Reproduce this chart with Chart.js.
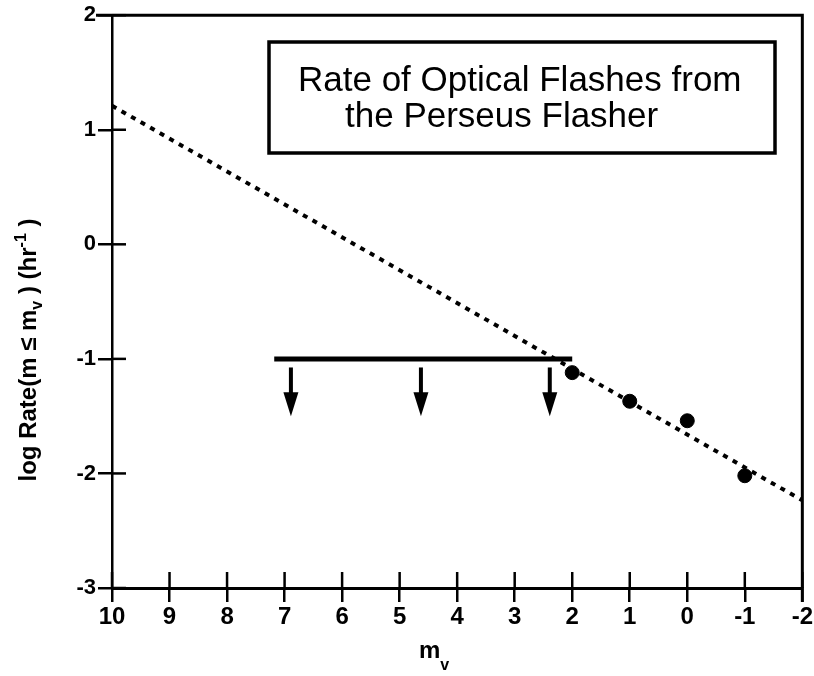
<!DOCTYPE html>
<html>
<head>
<meta charset="utf-8">
<script src="https://cdn.jsdelivr.net/npm/chart.js@4.4.0/dist/chart.umd.min.js"></script>
<style>
    html, body { margin: 0; padding: 0; background: #fff; }
    #wrap { width: 814px; height: 676px; }
</style>
</head>
<body>
<div id="wrap"><canvas id="chart" width="814" height="676"></canvas></div>
<script>
// measured flashes
const magnitudes = [2, 1, 0, -1];
const logRates = [-1.12, -1.37, -1.54, -2.02];

// dotted fit line (end points)
const fitMags = [10, -2];
const fitRates = [1.21, -2.235];

// upper limit bar and its arrows
const limitMags = [7.18, 2.0];
const limitRates = [-1.0, -1.0];
const arrowMags = [6.89, 4.63, 2.39];
const arrowTop = -1.075;
const arrowTip = -1.5;

// axis ranges
const xRange = [-2, 10];
const yRange = [-3, 2];

const FONT = "'Liberation Sans', Arial, sans-serif";
const NARROW = "'Liberation Sans Narrow', 'Arial Narrow', 'Liberation Sans', sans-serif";

function toPoints(xs, ys) {
    return xs.map((x, i) => ({ x: x, y: ys[i] }));
}

/**
 * write text pieces with sub/superscripts, centered on (0,0)
 */
function drawRichText(ctx, parts) {
    let total = 0;
    parts.forEach(p => {
        ctx.font = p.font;
        p.w = ctx.measureText(p.t).width;
        total += p.w;
    });
    let x = -total / 2;
    ctx.textBaseline = 'alphabetic';
    ctx.textAlign = 'left';
    parts.forEach(p => {
        ctx.font = p.font;
        ctx.fillText(p.t, x, p.dy);
        x += p.w;
    });
}

const framePlugin = {
    id: 'frame',
    afterDraw(chart) {
        const ctx = chart.ctx;
        const area = chart.chartArea;
        const xs = chart.scales.x;
        const ys = chart.scales.y;
        ctx.save();
        ctx.strokeStyle = '#000';
        ctx.fillStyle = '#000';

        // top and right border
        ctx.lineWidth = 3;
        ctx.beginPath();
        ctx.moveTo(area.left - 16, area.top);
        ctx.lineTo(area.right, area.top);
        ctx.lineTo(area.right, area.bottom + 14);
        ctx.stroke();

        // inner tick marks
        ctx.lineWidth = 2.5;
        xs.ticks.forEach(t => {
            const px = xs.getPixelForValue(t.value);
            ctx.beginPath();
            ctx.moveTo(px, area.bottom);
            ctx.lineTo(px, area.bottom - 16);
            ctx.stroke();
        });
        ys.ticks.forEach(t => {
            const py = ys.getPixelForValue(t.value);
            ctx.beginPath();
            ctx.moveTo(area.left, py);
            ctx.lineTo(area.left + 14, py);
            ctx.stroke();
        });

        // arrows under the limit bar
        arrowMags.forEach(m => {
            const px = xs.getPixelForValue(m);
            const top = ys.getPixelForValue(arrowTop);
            const tip = ys.getPixelForValue(arrowTip);
            ctx.lineWidth = 4;
            ctx.beginPath();
            ctx.moveTo(px, top);
            ctx.lineTo(px, tip - 20);
            ctx.stroke();
            ctx.beginPath();
            ctx.moveTo(px - 7.5, tip - 24);
            ctx.lineTo(px + 7.5, tip - 24);
            ctx.lineTo(px, tip);
            ctx.closePath();
            ctx.fill();
        });

        // title box
        ctx.lineWidth = 3.5;
        ctx.strokeRect(269, 42, 506, 111);
        ctx.font = '35px ' + FONT;
        ctx.textAlign = 'left';
        ctx.textBaseline = 'alphabetic';
        ctx.fillText('Rate of Optical Flashes from', 298, 91);
        ctx.fillText('the Perseus Flasher', 345, 127);

        // y axis title
        ctx.save();
        ctx.translate(36, 350);
        ctx.rotate(-Math.PI / 2);
        const big = 'bold 24px ' + NARROW;
        const small = 'bold 16px ' + NARROW;
        drawRichText(ctx, [
            { t: 'log Rate(m \u2264 m', font: big, dy: 0 },
            { t: 'v', font: small, dy: 6 },
            { t: ' ) (hr', font: big, dy: 0 },
            { t: '-1', font: small, dy: -10 },
            { t: ' )', font: big, dy: 0 }
        ]);
        ctx.restore();

        // x axis title
        ctx.save();
        ctx.translate(434, 658);
        drawRichText(ctx, [
            { t: 'm', font: 'bold 24px ' + NARROW, dy: 0 },
            { t: 'v', font: 'bold 16px ' + NARROW, dy: 12 }
        ]);
        ctx.restore();

        ctx.restore();
    }
};

new Chart(document.getElementById('chart'), {
    type: 'scatter',
    data: {
        datasets: [
            {
                label: 'flashes',
                data: toPoints(magnitudes, logRates),
                backgroundColor: '#000',
                borderColor: '#000',
                pointRadius: 7,
                pointHoverRadius: 7
            },
            {
                label: 'fit',
                type: 'line',
                data: toPoints(fitMags, fitRates),
                borderColor: '#000',
                borderWidth: 4,
                borderDash: [5, 6],
                pointRadius: 0,
                fill: false
            },
            {
                label: 'limit',
                type: 'line',
                data: toPoints(limitMags, limitRates),
                borderColor: '#000',
                borderWidth: 5,
                pointRadius: 0,
                fill: false
            }
        ]
    },
    options: {
        responsive: false,
        animation: false,
        layout: { padding: { top: 13, right: 11, left: 0, bottom: 0 } },
        plugins: {
            legend: { display: false },
            tooltip: { enabled: false }
        },
        scales: {
            x: {
                type: 'linear',
                reverse: true,
                min: xRange[0],
                max: xRange[1],
                afterFit(scale) { scale.height = 88; },
                border: { display: true, color: '#000', width: 3 },
                grid: {
                    drawOnChartArea: false,
                    drawTicks: true,
                    tickLength: 14,
                    color: '#000',
                    lineWidth: 2.5
                },
                ticks: {
                    stepSize: 1,
                    padding: 1,
                    color: '#000',
                    font: { family: NARROW, size: 24, weight: 'bold' }
                }
            },
            y: {
                type: 'linear',
                min: yRange[0],
                max: yRange[1],
                afterFit(scale) { scale.width = 112; },
                border: { display: true, color: '#000', width: 2.5 },
                grid: {
                    drawOnChartArea: false,
                    drawTicks: true,
                    tickLength: 14,
                    color: '#000',
                    lineWidth: 2.5
                },
                ticks: {
                    stepSize: 1,
                    padding: 2,
                    color: '#000',
                    font: { family: NARROW, size: 22, weight: 'bold' }
                }
            }
        }
    },
    plugins: [framePlugin]
});
</script>
</body>
</html>
